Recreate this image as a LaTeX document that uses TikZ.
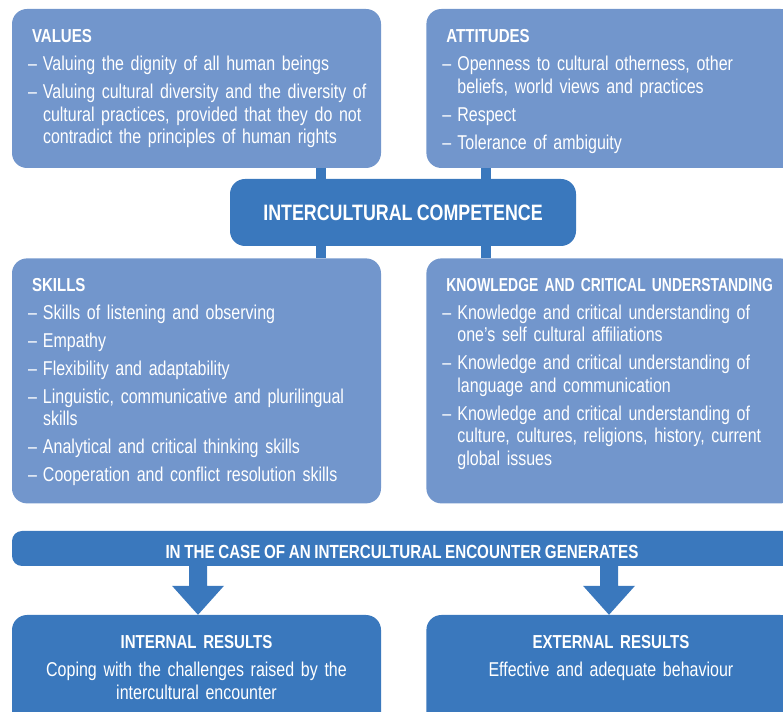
\documentclass[tikz,border=0pt]{standalone}
\usepackage{fontspec}
\setmainfont{Liberation Sans}[FakeStretch=0.8,WordSpace=0.85]
\usepackage{tikz}
\usetikzlibrary{positioning, calc}
\definecolor{panelblue}{RGB}{114,150,204}
\definecolor{deepblue}{RGB}{58,120,189}
\newcommand{\hd}[1]{\hspace*{4pt}{\bfseries\fontsize{18.8}{20}\selectfont #1}\par}
\newcommand{\itm}[1]{\vspace{5.5pt}\hangindent=15pt\hangafter=1\noindent\makebox[15pt][l]{–}#1\par}
\tikzset{panel/.style={rectangle,fill=panelblue,rounded corners=15pt,minimum width=369pt,minimum height=159pt,inner sep=0pt},
         tallpanel/.style={panel,minimum height=245pt},
         hub/.style={rectangle,fill=deepblue,rounded corners=15pt,minimum width=346pt,minimum height=67pt,text=white,font=\bfseries\fontsize{22.3}{24}\selectfont},
         banner/.style={rectangle,fill=deepblue,rounded corners=10pt,minimum width=783pt,minimum height=35pt,inner sep=0pt},
         result/.style={rectangle,fill=deepblue,rounded corners=15pt,minimum width=369pt,minimum height=126pt,inner sep=0pt},
         listtext/.style={anchor=base west,text=white,text width=350pt,align=left,inner sep=0pt,font=\fontsize{20}{22.5}\selectfont},
         resulttext/.style={anchor=base,text=white,text width=350pt,align=center,inner sep=0pt,font=\fontsize{20}{22.5}\selectfont},
         headtext/.style={anchor=base,text=white,inner sep=0pt,font=\bfseries\fontsize{19}{20}\selectfont},
         bar/.style={draw=deepblue,line width=10pt}}

\begin{document}
\begin{tikzpicture}[x=1pt,y=1pt]
    \useasboundingbox (0,0) rectangle (783,711);
    \clip (0,0) rectangle (783,711);
    % four panels around the hub
    \node (values) [panel] at (196.5,622.5) {};
    \node (attitudes) [panel, right=45pt of values] {};
    \node (skills) [tallpanel, below=90pt of values] {};
    \node (knowledge) [tallpanel, right=45pt of skills] {};
    \node (ic) [hub] at (403,498.5) {INTERCULTURAL COMPETENCE};
    \coordinate (lb) at (321,0);
    \coordinate (rb) at (486,0);
    \foreach \c in {lb,rb} {\draw[bar] (\c |- values.south) -- (\c |- ic.north);
                            \draw[bar] (\c |- ic.south) -- (\c |- skills.north);}
    \node (valuestxt) [listtext] at ($(values.north west)+(16,-34)$) {\hd{VALUES}%
      \itm{Valuing the dignity of all human beings}%
      \itm{Valuing cultural diversity and the diversity of\newline cultural practices, provided that they do not\newline contradict the principles of human rights}};
    \node (attitudestxt) [listtext] at ($(attitudes.north west)+(16,-34)$) {\hd{ATTITUDES}%
      \itm{Openness to cultural otherness, other\newline beliefs, world views and practices}%
      \itm{Respect}%
      \itm{Tolerance of ambiguity}};
    \node (skillstxt) [listtext] at ($(skills.north west)+(16,-33)$) {\hd{SKILLS}%
      \itm{Skills of listening and observing}%
      \itm{Empathy}%
      \itm{Flexibility and adaptability}%
      \itm{Linguistic, communicative and plurilingual\newline skills}%
      \itm{Analytical and critical thinking skills}%
      \itm{Cooperation and conflict resolution skills}};
    \node (knowledgetxt) [listtext] at ($(knowledge.north west)+(16,-33)$) {\hd{\scalebox{0.925}[1]{KNOWLEDGE AND CRITICAL UNDERSTANDING}}%
      \itm{Knowledge and critical understanding of\newline one’s self cultural affiliations}%
      \itm{Knowledge and critical understanding of\newline language and communication}%
      \itm{Knowledge and critical understanding of\newline culture, cultures, religions, history, current\newline global issues}};
    % encounter banner and the two results
    \node (encounter) [banner] at (403.5,162.5) {};
    \node (encountertxt) [headtext] at (402,152.7) {IN THE CASE OF AN INTERCULTURAL ENCOUNTER GENERATES};
    \node (internal) [result] at (196.5,33) {};
    \node (external) [result, right=45pt of internal] {};
    \node (internaltxt) [resulttext] at ($(internal.north)+(0,-34)$) {{\bfseries\fontsize{18.8}{20}\selectfont INTERNAL RESULTS}\\[5.5pt]
      Coping with the challenges raised by the\\ intercultural encounter};
    \node (externaltxt) [resulttext] at ($(external.north)+(0,-34)$) {{\bfseries\fontsize{18.8}{20}\selectfont EXTERNAL RESULTS}\\[5.5pt]
      Effective and adequate behaviour};
    \coordinate (la) at (198,0);
    \coordinate (ra) at (609,0);
    \foreach \c/\t in {la/internal,ra/external} {
      \fill[deepblue] ($(\c |- encounter.south)+(-9,1)$) -- ($(\c |- encounter.south)+(9,1)$)
        -- ($(\c |- \t.north)+(9,29)$) -- ($(\c |- \t.north)+(26,29)$) -- (\c |- \t.north)
        -- ($(\c |- \t.north)+(-26,29)$) -- ($(\c |- \t.north)+(-9,29)$) -- cycle;}
\end{tikzpicture}
\end{document}
